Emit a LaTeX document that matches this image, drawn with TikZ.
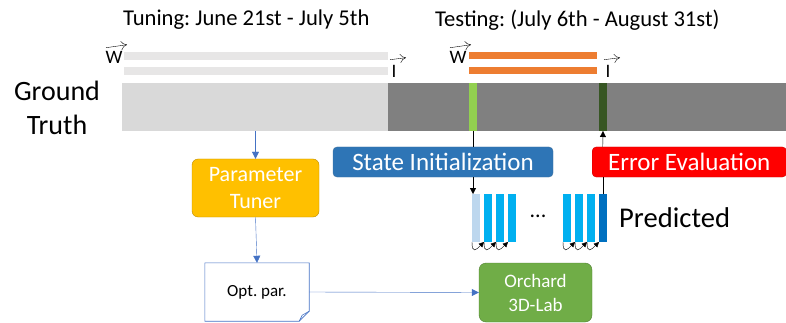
\documentclass[tikz,border=0pt]{standalone}
\usepackage{fontspec}
\setmainfont{Carlito}
\usetikzlibrary{arrows.meta}
\frenchspacing

\definecolor{barlight}{HTML}{D9D9D9}
\definecolor{bardark}{HTML}{808080}
\definecolor{wtune}{HTML}{E7E6E6}
\definecolor{wtest}{HTML}{ED7D31}
\definecolor{initgreen}{HTML}{92D050}
\definecolor{evalgreen}{HTML}{375623}
\definecolor{boxblue}{HTML}{2E75B6}
\definecolor{boxblueline}{HTML}{41719C}
\definecolor{linkblue}{HTML}{4472C4}
\definecolor{tunergold}{HTML}{FFC000}
\definecolor{tunerline}{HTML}{BC8C00}
\definecolor{labgreen}{HTML}{70AD47}
\definecolor{labline}{HTML}{507E32}
\definecolor{predpale}{HTML}{BDD7EE}
\definecolor{predcyan}{HTML}{00B0F0}
\definecolor{preddark}{HTML}{0070C0}

\tikzset{
  bar/.style={inner sep=0pt, outer sep=0pt, anchor=north west},
  pred/.style={inner sep=0pt, outer sep=0pt, minimum width=7.5pt, minimum height=48pt},
  tag/.style={inner sep=0pt, font=\fontsize{19}{22}\selectfont},
  vecarrow/.style={black, thin, -{To[length=6pt,width=9pt]}},
  link/.style={linkblue, -{Triangle[length=7pt,width=7pt]}},
  flow/.style={black, thin, -{Triangle[length=6pt,width=6pt]}},
  step arrow/.style={black, thin, -{Triangle[length=5pt,width=5pt]}},
}

\begin{document}
\begin{tikzpicture}[x=1pt,y=-1pt]
\useasboundingbox (0,0) rectangle (786,323);
\clip (0,0) rectangle (786,323);

% titles
\node[anchor=west, inner sep=0pt, font=\fontsize{22.6}{27}\selectfont] (tunetitle) at (123,20) {Tuning: June 21st - July 5th};
\node[anchor=west, inner sep=0pt, font=\fontsize{22.6}{27}\selectfont] (testtitle) at (435,20) {Testing: (July 6th - August 31st)};

% weather / input bars
\node[bar, fill=wtune, minimum width=264pt, minimum height=8pt] (wtuneA) at (124,52) {};
\node[bar, fill=wtune, minimum width=264pt, minimum height=8pt] (wtuneB) at (124,67) {};
\node[bar, fill=wtest, minimum width=128pt, minimum height=7.5pt] (wtestA) at (469,52) {};
\node[bar, fill=wtest, minimum width=128pt, minimum height=7.5pt] (wtestB) at (469,67) {};
\node[tag] (wlabA) at (114,57) {W};
\node[tag] (ilabA) at (394,71) {I};
\node[tag] (wlabB) at (458,57) {W};
\node[tag] (ilabB) at (608,71) {I};
% vector arrows over the labels
\foreach \n in {wlabA,wlabB} {
\draw[vecarrow] ([xshift=-8pt,yshift=3pt]\n.north) -- ([xshift=13pt,yshift=6pt]\n.north);
}
\foreach \n in {ilabA,ilabB} {
\draw[vecarrow] ([xshift=-4pt,yshift=5pt]\n.north) -- ([xshift=12pt,yshift=7pt]\n.north);
}

% ground truth bar
\node[align=center, inner sep=0pt, font=\fontsize{28}{34}\selectfont] (gt) at (57,108) {Ground\\Truth};
\node[bar, fill=barlight, minimum width=266pt, minimum height=48pt] (tune) at (122,83) {};
\node[bar, fill=bardark, minimum width=398pt, minimum height=48pt] (test) at (388,83) {};
\node[bar, fill=initgreen, minimum width=8pt, minimum height=48pt] (initbar) at (469,83) {};
\node[bar, fill=evalgreen, minimum width=8pt, minimum height=48pt] (evalbar) at (599,83) {};

% state init / error eval
\node[fill=boxblue, draw=boxblueline, rounded corners=4pt, minimum width=220pt, minimum height=30pt,
      inner sep=0pt, text=white, font=\fontsize{25}{30}\selectfont] (init) at (443,162) {State Initialization};
\node[anchor=west, fill=red, draw=red!80!black, rounded corners=4pt, minimum height=30pt,
      inner xsep=16pt, inner ysep=0pt, text=white, font=\fontsize{25}{30}\selectfont] (eval) at (592,162) {Error Evaluation};

% predicted states
\foreach \x/\c [count=\i] in {472/predpale,484/predcyan,496/predcyan,508/predcyan,
                              563/predcyan,575/predcyan,587/predcyan,599/preddark} {
\node[pred, fill=\c] (p\i) at (\x+3.75,218) {};
}
\foreach \i/\j in {1/2,2/3,3/4,5/6,6/7,7/8} {
\draw[step arrow] (p\i.south west) to[out=-90,in=-135,looseness=2.5] (p\j.south west);
}
\node[inner sep=0pt, font=\fontsize{22}{26}\selectfont] (dots) at (538,216) {...};
\node[anchor=west, inner sep=0pt, font=\fontsize{28.6}{34}\selectfont] (predlab) at (619,218) {Predicted};

\draw[flow, -] (initbar.south) -- (init.north -| initbar);
\draw[flow] (init.south -| initbar) -- (p1.north -| initbar);
\draw[flow, -] (p8.north) -- (eval.south -| p8);
\draw[flow] (eval.north -| p8) -- (evalbar.south);

% tuning chain
\node[fill=tunergold, draw=tunerline, rounded corners=6pt, minimum width=127pt, minimum height=58pt,
      inner sep=0pt, align=center, text=white, font=\fontsize{22}{27}\selectfont] (tuner) at (255.5,188) {Parameter\\Tuner};
\node[minimum width=104pt, minimum height=58pt, inner sep=0pt, font=\fontsize{17}{20}\selectfont] (opt) at (257,292) {Opt. par.};
\draw[linkblue, semithick] (opt.north west) -- (opt.north east) -- ([yshift=10pt]opt.south east)
  -- ([xshift=-10pt]opt.south east) -- (opt.south west) -- cycle;
\draw[linkblue, semithick] ([xshift=-10pt]opt.south east) -- ([xshift=-7pt,yshift=6pt]opt.south east)
  -- ([yshift=10pt]opt.south east);
\node[fill=labgreen, draw=labline, rounded corners=7pt, minimum width=113pt, minimum height=59pt,
      inner sep=0pt, align=center, text=white, font=\fontsize{19}{24}\selectfont] (lab) at (535.5,292.5) {Orchard\\3D-Lab};

\draw[link] (tuner.north |- tune.south) -- (tuner.north);
\draw[link] (tuner.south) -- (opt.north);
\draw[link] (opt.east) -- (lab.west);
\end{tikzpicture}
\end{document}
